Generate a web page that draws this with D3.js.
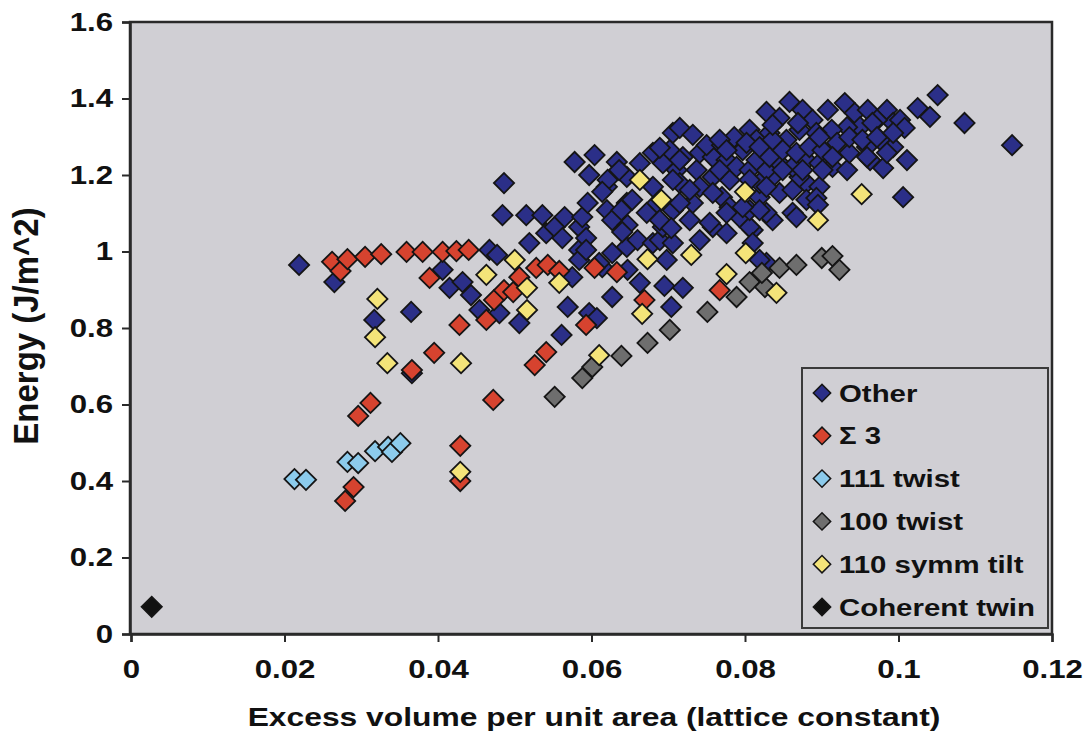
<!DOCTYPE html>
<html>
<head>
<meta charset="utf-8">
<script src="https://cdn.jsdelivr.net/npm/d3@7/dist/d3.min.js"></script>
<style>
  html, body { margin: 0; padding: 0; background: #ffffff; }
  svg { display: block; }
  text { font-family: "Liberation Sans", Arial, sans-serif; font-weight: bold; fill: #111; }
</style>
</head>
<body>
<svg id="chart" width="1088" height="734"></svg>
<script>
// ---------------- DATA ----------------
const seriesNames = ["Other", "\u03A3 3", "111 twist", "100 twist", "110 symm tilt", "Coherent twin"];
const xTicks = [0, 0.02, 0.04, 0.06, 0.08, 0.1, 0.12];
const yTicks = [0, 0.2, 0.4, 0.6, 0.8, 1, 1.2, 1.4, 1.6];
const xTickLabels = ["0", "0.02", "0.04", "0.06", "0.08", "0.1", "0.12"];
const yTickLabels = ["0", "0.2", "0.4", "0.6", "0.8", "1", "1.2", "1.4", "1.6"];

const otherX = [0.0219,0.0265,0.0317,0.0365,0.0366,0.0406,0.0415,0.0432,0.0443,0.0454,0.0480,0.0506,0.0467,0.0477,0.0486,0.0484,0.0515,0.0536,0.0519,0.0541,
  0.0552,0.0562,0.0565,0.0584,0.0584,0.0593,0.0588,0.0595,0.0575,0.0584,0.0569,0.0561,0.0597,0.0607,0.0627,0.0614,0.0647,0.0663,0.0695,0.0719,
  0.0704,0.0593,0.0610,0.0627,0.0646,0.0660,0.0680,0.0698,0.0689,0.0741,0.0706,0.0758,0.0776,0.0810,0.0828,0.0806,0.0728,0.0754,0.0793,0.0836,
  0.0810,0.0819,0.0862,0.0828,0.0867,0.0806,0.0819,0.0845,0.0862,0.0880,0.0897,0.0880,0.0893,0.0871,0.0836,0.0819,0.0780,0.0758,0.0737,0.0711,
  0.0693,0.0702,0.0719,0.0741,0.0758,0.0776,0.0789,0.0806,0.0828,0.0845,0.0862,0.0880,0.0897,0.0914,0.0933,0.0963,0.0980,0.1011,0.1006,0.0715,
  0.0741,0.0770,0.0732,0.0706,0.0780,0.0819,0.0693,0.0680,0.0646,0.0620,0.0715,0.0680,0.0706,0.0663,0.0680,0.0706,0.0715,0.0732,0.0750,0.0770,
  0.0786,0.0806,0.0828,0.0845,0.0858,0.0875,0.0888,0.0908,0.0930,0.0943,0.0960,0.0985,0.0993,0.0972,0.0950,0.0933,0.0913,0.0893,0.0871,0.0854,
  0.0832,0.0815,0.0797,0.0815,0.0832,0.0849,0.0867,0.0884,0.0901,0.0920,0.0936,0.0959,0.0976,0.0993,0.1002,0.1008,0.1025,0.1041,0.1051,0.1086,
  0.1148,0.0985,0.0959,0.0914,0.0849,0.0875,0.0901,0.0806,0.0966,0.0869,0.0802,0.0819,0.0836,0.0897,0.0936,0.0953,0.0972,0.0993,0.0767,0.0836,
  0.0689,0.0633,0.0604,0.0597,0.0620,0.0646,0.0715,0.0776,0.0767,0.0728,0.0758,0.0828,0.0578,0.0636,0.0621,0.0614,0.0627,0.0647,0.0639,0.0653,
  0.0672,0.0689,0.0704,0.0640,0.0797,0.0776,0.0895];
const otherY = [0.965,0.920,0.821,0.842,0.682,0.952,0.905,0.920,0.886,0.847,0.839,0.813,1.004,0.991,1.179,1.095,1.095,1.095,1.022,1.048,
  1.064,1.035,1.090,1.004,1.064,1.035,1.090,1.127,0.933,0.978,0.855,0.782,0.839,0.826,0.881,0.959,0.952,0.918,0.910,0.905,
  0.855,1.004,0.970,0.996,1.012,1.030,1.022,0.978,1.030,1.030,1.022,1.064,1.048,1.056,0.970,1.064,1.082,1.075,1.090,1.082,
  1.022,0.978,1.101,1.101,1.090,1.108,1.142,1.153,1.161,1.179,1.169,1.135,1.140,1.195,1.195,1.179,1.187,1.195,1.213,1.213,
  1.231,1.265,1.247,1.258,1.247,1.239,1.221,1.213,1.213,1.231,1.221,1.239,1.231,1.221,1.213,1.239,1.218,1.239,1.142,1.179,
  1.169,1.142,1.127,1.108,1.116,1.108,1.064,1.116,1.127,1.108,1.127,1.169,1.187,1.231,1.258,1.310,1.323,1.305,1.278,1.278,
  1.299,1.318,1.365,1.349,1.391,1.370,1.344,1.370,1.388,1.362,1.370,1.370,1.336,1.344,1.325,1.325,1.318,1.310,1.318,1.292,
  1.310,1.292,1.265,1.239,1.247,1.265,1.258,1.273,1.265,1.284,1.258,1.273,1.292,1.273,1.344,1.323,1.375,1.352,1.409,1.336,
  1.278,1.258,1.247,1.247,1.213,1.213,1.213,1.187,1.336,1.336,1.284,1.273,1.292,1.299,1.299,1.292,1.299,1.310,1.292,1.331,
  1.271,1.234,1.252,1.200,1.169,1.195,1.239,1.265,1.213,1.161,1.153,1.169,1.234,1.213,1.187,1.156,1.082,1.069,1.108,1.135,
  1.101,1.082,1.061,1.051,1.116,1.101,1.122];

const sigma3X = [0.0262,0.0273,0.0282,0.0305,0.0326,0.0359,0.0380,0.0406,0.0424,0.0440,0.0389,0.0395,0.0366,0.0312,0.0296,0.0290,0.0279,0.0429,0.0429,
  0.0473,0.0486,0.0498,0.0463,0.0428,0.0506,0.0528,0.0543,0.0558,0.0593,0.0541,0.0526,0.0472,0.0604,0.0633,0.0669,0.0767];
const sigma3Y = [0.973,0.949,0.980,0.986,0.993,0.999,0.999,0.999,1.001,1.004,0.931,0.735,0.690,0.604,0.570,0.384,0.348,0.492,0.400,
  0.873,0.899,0.894,0.821,0.808,0.933,0.957,0.965,0.949,0.808,0.737,0.703,0.612,0.957,0.946,0.873,0.899];

const twist111X = [0.0213,0.0228,0.0282,0.0296,0.0318,0.0335,0.0340,0.0351];
const twist111Y = [0.405,0.403,0.450,0.447,0.478,0.489,0.476,0.499];

const twist100X = [0.0552,0.0588,0.0601,0.0639,0.0673,0.0702,0.0751,0.0789,0.0806,0.0826,0.0822,0.0845,0.0867,0.0900,0.0914,0.0923];
const twist100Y = [0.620,0.669,0.698,0.727,0.761,0.795,0.842,0.881,0.920,0.907,0.944,0.957,0.965,0.983,0.988,0.952];

const tilt110X = [0.0321,0.0318,0.0334,0.0430,0.0429,0.0463,0.0500,0.0516,0.0516,0.0558,0.0610,0.0666,0.0673,0.0730,0.0776,0.0801,0.0841,
  0.0663,0.0691,0.0800,0.0895,0.0952];
const tilt110Y = [0.876,0.776,0.708,0.708,0.424,0.939,0.978,0.905,0.847,0.918,0.729,0.837,0.980,0.991,0.941,0.996,0.892,
  1.187,1.135,1.156,1.082,1.150];

const twinX = [0.0027];
const twinY = [0.071];

const seriesColors = ["#2b2f88", "#d6432f", "#8ccbec", "#6e6e6e", "#f4e479", "#111111"];

// ---------------- LAYOUT ----------------
const svg = d3.select("#chart");
const plot = { left: 130, right: 1052, top: 22, bottom: 634 };
const x = d3.scaleLinear().domain([0, 0.12]).range([131, 1052]);
const y = d3.scaleLinear().domain([0, 1.6]).range([634, 22]);
const SX = 1.2; // horizontal stretch of the scanned text

svg.append("rect").attr("x", 0).attr("y", 0).attr("width", 1088).attr("height", 734).attr("fill", "#ffffff");
svg.append("rect")
  .attr("x", plot.left).attr("y", plot.top)
  .attr("width", plot.right - plot.left).attr("height", plot.bottom - plot.top)
  .attr("fill", "#d0cfd4").attr("stroke", "#2a2a2a").attr("stroke-width", 2.5);

function stretchTexts(sel) {
  sel.selectAll("text").each(function () {
    const t = d3.select(this);
    const tx = +t.attr("x") || 0;
    const ty = +t.attr("y") || 0;
    t.attr("x", 0).attr("y", 0).attr("transform", `translate(${tx},${ty}) scale(${SX},1)`);
  });
}

const fmtX = d => xTickLabels[xTicks.indexOf(d)];
const fmtY = d => yTickLabels[yTicks.indexOf(d)];

const gx = svg.append("g").attr("transform", `translate(0,${plot.bottom})`)
  .call(d3.axisBottom(x).tickValues(xTicks).tickFormat(fmtX).tickSize(8).tickPadding(18));
const gy = svg.append("g").attr("transform", `translate(${plot.left},0)`)
  .call(d3.axisLeft(y).tickValues(yTicks).tickFormat(fmtY).tickSize(8).tickPadding(9));

[gx, gy].forEach(g => {
  g.select(".domain").attr("stroke", "#2a2a2a").attr("stroke-width", 2.5);
  g.selectAll(".tick line").attr("stroke", "#2a2a2a").attr("stroke-width", 2);
  g.selectAll(".tick text").attr("font-size", 26).attr("font-weight", "bold")
    .attr("font-family", "'Liberation Sans', Arial, sans-serif").attr("fill", "#111");
  stretchTexts(g);
});

// Axis titles
svg.append("text")
  .attr("transform", `translate(594,726) scale(${SX},1)`)
  .attr("text-anchor", "middle").attr("font-size", 26.5)
  .text("Excess volume per unit area (lattice constant)");
svg.append("text")
  .attr("transform", `translate(38,326) rotate(-90) scale(1,1.08)`)
  .attr("text-anchor", "middle").attr("font-size", 33)
  .text("Energy (J/m^2)");

// ---------------- MARKERS ----------------
const seriesData = [
  d3.zip(otherX, otherY),
  d3.zip(sigma3X, sigma3Y),
  d3.zip(twist111X, twist111Y),
  d3.zip(twist100X, twist100Y),
  d3.zip(tilt110X, tilt110Y),
  d3.zip(twinX, twinY)
];

const diamond = d3.symbol().type(d3.symbolSquare).size(205);
const gMarks = svg.append("g");
seriesData.forEach((pts, i) => {
  gMarks.append("g").selectAll("path").data(pts).join("path")
    .attr("d", diamond)
    .attr("transform", d => `translate(${x(d[0])},${y(d[1])}) rotate(45)`)
    .attr("fill", seriesColors[i])
    .attr("stroke", "#151515").attr("stroke-width", 1.8);
});

// ---------------- LEGEND ----------------
const legend = svg.append("g");
legend.append("rect").attr("x", 802).attr("y", 368).attr("width", 246).attr("height", 260)
  .attr("fill", "#d0cfd4").attr("stroke", "#3a3a3a").attr("stroke-width", 2);
const legendMark = d3.symbol().type(d3.symbolSquare).size(150);
seriesNames.forEach((name, i) => {
  const cy = 393 + i * 42.8;
  legend.append("path").attr("d", legendMark)
    .attr("transform", `translate(822,${cy}) rotate(45)`)
    .attr("fill", seriesColors[i]).attr("stroke", "#151515").attr("stroke-width", 1.5);
  legend.append("text")
    .attr("transform", `translate(839,${cy + 8.5}) scale(${SX},1)`)
    .attr("font-size", 24.5).text(name);
});
</script>
</body>
</html>
